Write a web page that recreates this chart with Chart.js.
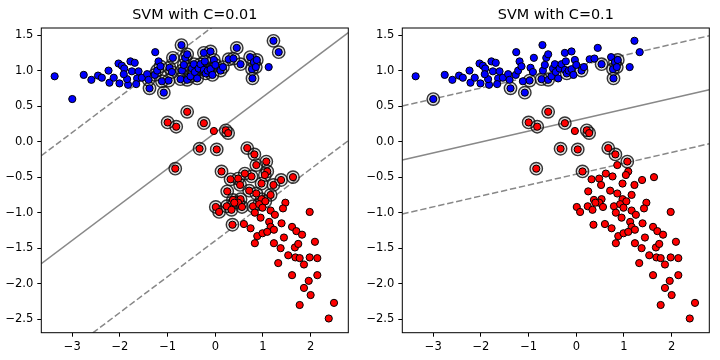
<!DOCTYPE html>
<html>
<head>
<meta charset="utf-8">
<script src="https://cdn.jsdelivr.net/npm/chart.js@4.4.0/dist/chart.umd.min.js"></script>
<style>
  html, body { margin: 0; padding: 0; background: #fff; overflow: hidden; }
  .panel { position: absolute; top: 0; width: 360px; height: 360px; }
</style>
</head>
<body>
<div class="panel" style="left:0"><canvas id="c1" width="360" height="360"></canvas></div>
<div class="panel" style="left:361px"><canvas id="c2" width="360" height="360"></canvas></div>
<script>
// data
const blueX = [-3.37,-3.00,-2.76,-2.60,-2.46,-2.38,-2.24,-2.22,-2.13,-2.03,-1.96,-1.91,-1.78,-1.69,-2.01,-1.83,-1.85,-1.75,-1.61,-1.64,
  -1.66,-1.92,-1.54,-1.43,-1.38,-1.40,-1.26,-1.27,-1.22,-1.19,-1.15,-1.12,-1.08,-0.98,-0.96,-0.89,-0.91,-0.73,-0.71,-0.70,
  -0.66,-0.63,-0.59,-0.59,-0.52,-0.49,-0.45,-0.43,-0.38,-0.35,-0.31,-0.24,-0.22,-0.24,-0.20,-0.16,-0.10,-0.10,-0.06,-0.03,
  0.00,0.11,0.16,0.28,0.38,0.45,0.53,0.73,0.81,0.77,0.85,0.87,0.78,1.12,1.22,1.33];
const blueY = [0.92,0.60,0.94,0.87,0.93,0.90,1.00,0.83,0.90,1.10,1.07,1.03,1.13,1.11,0.82,0.80,0.88,0.99,0.99,0.89,
  0.81,0.95,0.90,0.95,0.75,0.87,1.26,0.94,1.00,1.13,1.06,0.85,0.69,0.86,1.04,1.18,0.98,0.88,1.36,1.00,
  1.08,1.18,1.23,0.87,0.92,1.03,1.09,0.98,0.89,1.03,1.09,1.25,1.13,1.01,0.96,1.00,1.27,1.02,0.94,1.15,
  1.08,1.00,1.05,1.16,1.17,1.32,1.09,1.19,1.12,1.02,1.05,1.15,0.89,1.05,1.42,1.26];

const redX = [-0.59,-1.00,-0.82,-0.24,-0.03,0.22,0.27,-0.33,0.03,-0.84,0.67,0.82,0.86,1.07,1.09,1.04,0.13,0.32,0.48,0.52,
  0.62,0.76,0.97,1.22,1.38,1.63,0.25,0.37,0.53,0.71,0.86,0.97,1.16,0.01,0.24,0.79,0.48,0.56,0.92,1.05,
  0.08,0.34,0.40,0.36,0.99,1.47,0.83,0.95,1.16,1.25,1.42,1.98,0.60,0.74,1.13,1.16,1.39,1.61,1.70,1.82,
  0.88,0.99,1.09,1.23,1.44,0.83,1.23,1.37,1.53,1.67,1.74,1.68,1.77,1.86,1.98,2.14,2.09,1.32,1.61,1.96,
  2.14,1.86,2.00,1.77,2.49,2.38];
const redY = [0.42,0.27,0.21,0.26,0.15,0.16,0.12,-0.10,-0.11,-0.38,-0.09,-0.18,-0.33,-0.28,-0.42,-0.47,-0.42,-0.53,-0.52,-0.61,
  -0.45,-0.49,-0.59,-0.61,-0.54,-0.50,-0.70,-0.82,-0.81,-0.69,-0.73,-0.81,-0.75,-0.92,-0.91,-0.91,-0.86,-0.92,-0.88,-0.84,
  -0.99,-0.96,-0.86,-1.17,-0.93,-0.86,-1.00,-1.07,-0.97,-1.03,-0.94,-0.99,-1.16,-1.22,-1.13,-1.20,-1.15,-1.20,-1.26,-1.31,
  -1.33,-1.29,-1.27,-1.24,-1.35,-1.43,-1.43,-1.50,-1.60,-1.49,-1.44,-1.63,-1.64,-1.73,-1.63,-1.64,-1.41,-1.71,-1.88,-1.96,
  -1.88,-2.06,-2.16,-2.30,-2.27,-2.49];

// support vectors (indices into the arrays above)
const blueSvLeft = [24,25,27,28,30,31,32,33,34,35,36,37,38,39,40,41,42,43,44,45,46,47,48,49,50,51,52,53,54,55,
  56,57,58,59,60,61,62,63,64,65,66,67,68,69,70,71,72,74,75];
const redSvLeft = [0,1,2,3,5,6,7,8,9,10,11,12,13,14,15,16,17,18,19,20,21,22,23,24,25,26,27,28,29,30,
  31,32,33,34,35,36,37,38,39,40,41,42,43];
const blueSvRight = [1,24,32,33,37,43,54,61,66,68,69,70,71,72];
const redSvRight = [0,1,2,3,5,6,7,8,9,10,11,13,16];

// separating line y = a*x + b, margins at +/- m
const titles = ['SVM with C=0.01', 'SVM with C=0.1'];
const slopes = [0.505, 0.1535];
const intercepts = [0.125, 0.302];
const margins = [1.52, 0.76];

const xTicks = [-3, -2, -1, 0, 1, 2];
const yTicks = [-2.5, -2.0, -1.5, -1.0, -0.5, 0.0, 0.5, 1.0, 1.5];
const xMin = -3.65, xMax = 2.79, yMin = -2.69, yMax = 1.60;

const pts = (xs, ys) => xs.map((x, i) => ({ x, y: ys[i] }));
const pick = (xs, ys, idx) => idx.map(i => ({ x: xs[i], y: ys[i] }));
const minus = s => String(s).replace('-', '\u2212');
const tickFont = { family: 'DejaVu Sans', size: 11.5 };

function lineData(a, b) {
  return [{ x: xMin, y: a * xMin + b }, { x: xMax, y: a * xMax + b }];
}

function makeChart(id, p, blueSv, redSv) {
  const a = slopes[p], b = intercepts[p], m = margins[p];
  const lineStyle = { showLine: true, pointRadius: 0, borderColor: '#888', borderWidth: 1.5, order: 10 };
  const ringStyle = { pointRadius: 6.2, borderWidth: 1.4, borderColor: 'rgba(20,20,20,0.85)',
    backgroundColor: 'rgba(0,0,0,0.13)', order: 5 };
  new Chart(document.getElementById(id), {
    type: 'scatter',
    data: {
      datasets: [
        { data: lineData(a, b), ...lineStyle },
        { data: lineData(a, b + m), ...lineStyle, borderDash: [6.4, 2.8] },
        { data: lineData(a, b - m), ...lineStyle, borderDash: [6.4, 2.8] },
        { data: pick(blueX, blueY, blueSv), ...ringStyle },
        { data: pick(redX, redY, redSv), ...ringStyle },
        { data: pts(blueX, blueY), pointRadius: 3.6, borderWidth: 1,
          borderColor: '#000', backgroundColor: '#0000ff', order: 1 },
        { data: pts(redX, redY), pointRadius: 3.6, borderWidth: 1,
          borderColor: '#000', backgroundColor: '#ff0000', order: 1 }
      ]
    },
    options: {
      responsive: false,
      animation: false,
      events: [],
      layout: { padding: { left: 0, right: 11.7, top: 28, bottom: 0 } },
      plugins: { legend: { display: false }, tooltip: { enabled: false }, title: { display: false } },
      scales: {
        x: {
          type: 'linear', min: xMin, max: xMax,
          afterBuildTicks: s => { s.ticks = xTicks.map(v => ({ value: v })); },
          afterFit: s => { s.height = 27.3; },
          ticks: { callback: v => minus(v), font: tickFont, color: '#000', padding: 3, maxRotation: 0, autoSkip: false },
          grid: { drawOnChartArea: false, tickLength: 4, color: '#000' },
          border: { display: false }
        },
        y: {
          type: 'linear', min: yMin, max: yMax,
          afterBuildTicks: s => { s.ticks = yTicks.map(v => ({ value: v })); },
          afterFit: s => { s.width = 41.3; },
          ticks: { callback: v => minus(v.toFixed(1)), font: tickFont, color: '#000', padding: 4, autoSkip: false },
          grid: { drawOnChartArea: false, tickLength: 4, color: '#000' },
          border: { display: false }
        }
      }
    },
    plugins: [{
      id: 'frame',
      afterDraw(chart) {
        const { ctx, chartArea: c } = chart;
        ctx.save();
        ctx.strokeStyle = '#000';
        ctx.lineWidth = 1;
        ctx.strokeRect(c.left, c.top, c.right - c.left, c.bottom - c.top);
        ctx.fillStyle = '#000';
        ctx.font = '14.4px "DejaVu Sans"';
        ctx.textAlign = 'center';
        ctx.textBaseline = 'middle';
        ctx.fillText(titles[p], (c.left + c.right) / 2, 15);
        ctx.restore();
      }
    }]
  });
}

makeChart('c1', 0, blueSvLeft, redSvLeft);
makeChart('c2', 1, blueSvRight, redSvRight);
</script>
</body>
</html>
